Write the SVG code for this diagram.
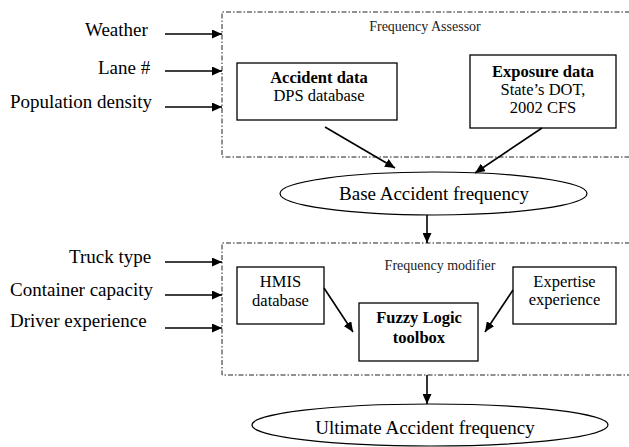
<svg xmlns="http://www.w3.org/2000/svg" width="629" height="447" viewBox="0 0 629 447" font-family="'Liberation Serif', 'Times New Roman', Tinos, 'DejaVu Serif', serif">
<style>
text{font-family:"Liberation Serif","Times New Roman",Tinos,"DejaVu Serif",serif;fill:#000}
.lbl{font-size:19px}
.box{fill:#fff;stroke:#000;stroke-width:1.3}
.bt{font-size:16.5px;text-anchor:middle}
.b{font-weight:bold}
.cap{font-size:14px;text-anchor:middle;fill:#222}
.frame{fill:none;stroke:#222;stroke-width:1;stroke-dasharray:5 2 1.5 2}
.ell{fill:#fff;stroke:#000;stroke-width:1.2}
.big{font-size:19px;text-anchor:middle}
.arr{stroke:#000;stroke-width:1.6;fill:none;marker-end:url(#ah)}
</style>
<defs>
<marker id="ah" markerUnits="userSpaceOnUse" markerWidth="11" markerHeight="9" refX="10" refY="4.5" orient="auto">
<path d="M0,0 L10,4.5 L0,9 z" fill="#000"/>
</marker>
</defs>
<g id="assessor">
<path class="frame" d="M630,12 H222 V157 H630"/>
<text class="cap" x="425" y="31">Frequency Assessor</text>
</g>
<g id="modifier">
<path class="frame" d="M630,243 H222 V375 H630"/>
<text class="cap" x="440" y="270">Frequency modifier</text>
</g>
<g id="weather"><text class="lbl" x="85" y="36">Weather</text></g>
<g id="lane"><text class="lbl" x="98" y="74">Lane #</text></g>
<g id="population"><text class="lbl" x="10" y="108">Population density</text></g>
<g id="truck"><text class="lbl" x="69" y="263">Truck type</text></g>
<g id="container"><text class="lbl" x="10" y="296">Container capacity</text></g>
<g id="driver"><text class="lbl" x="10" y="327">Driver experience</text></g>
<g id="accident">
<rect class="box" x="237" y="63" width="160" height="57"/>
<text class="bt b" x="319" y="83">Accident data</text>
<text class="bt" x="319" y="101">DPS database</text>
</g>
<g id="exposure">
<rect class="box" x="470" y="55" width="146" height="73"/>
<text class="bt b" x="543" y="77">Exposure data</text>
<text class="bt" x="543" y="95">State’s DOT,</text>
<text class="bt" x="543" y="113">2002 CFS</text>
</g>
<g id="base">
<ellipse class="ell" cx="433.5" cy="193.5" rx="153.5" ry="21.5"/>
<text class="big" x="434" y="200">Base Accident frequency</text>
</g>
<g id="hmis">
<rect class="box" x="237" y="267" width="87" height="57"/>
<text class="bt" x="280.5" y="287">HMIS</text>
<text class="bt" x="280.5" y="306">database</text>
</g>
<g id="expertise">
<rect class="box" x="513" y="267" width="103" height="57"/>
<text class="bt" x="564.5" y="287">Expertise</text>
<text class="bt" x="564.5" y="305">experience</text>
</g>
<g id="fuzzy">
<rect class="box" x="359" y="303" width="119" height="58"/>
<text class="bt b" x="419" y="323">Fuzzy Logic</text>
<text class="bt b" x="419" y="343">toolbox</text>
</g>
<g id="ultimate">
<ellipse class="ell" cx="430" cy="425" rx="178" ry="21"/>
<text class="big" x="425" y="434">Ultimate Accident frequency</text>
</g>
<g id="connectors">
<line class="arr" x1="165" y1="34" x2="222" y2="34"/>
<line class="arr" x1="165" y1="71" x2="222" y2="71"/>
<line class="arr" x1="165" y1="107" x2="222" y2="107"/>
<line class="arr" x1="165" y1="262" x2="222" y2="262"/>
<line class="arr" x1="165" y1="295" x2="222" y2="295"/>
<line class="arr" x1="165" y1="328" x2="222" y2="328"/>
<line class="arr" x1="325" y1="127" x2="395" y2="168"/>
<line class="arr" x1="542" y1="128" x2="475" y2="173"/>
<line class="arr" x1="427" y1="215" x2="427" y2="243"/>
<line class="arr" x1="324" y1="288" x2="353" y2="332"/>
<line class="arr" x1="513" y1="290" x2="485" y2="332"/>
<line class="arr" x1="427" y1="375" x2="427" y2="404"/>
</g>
</svg>
